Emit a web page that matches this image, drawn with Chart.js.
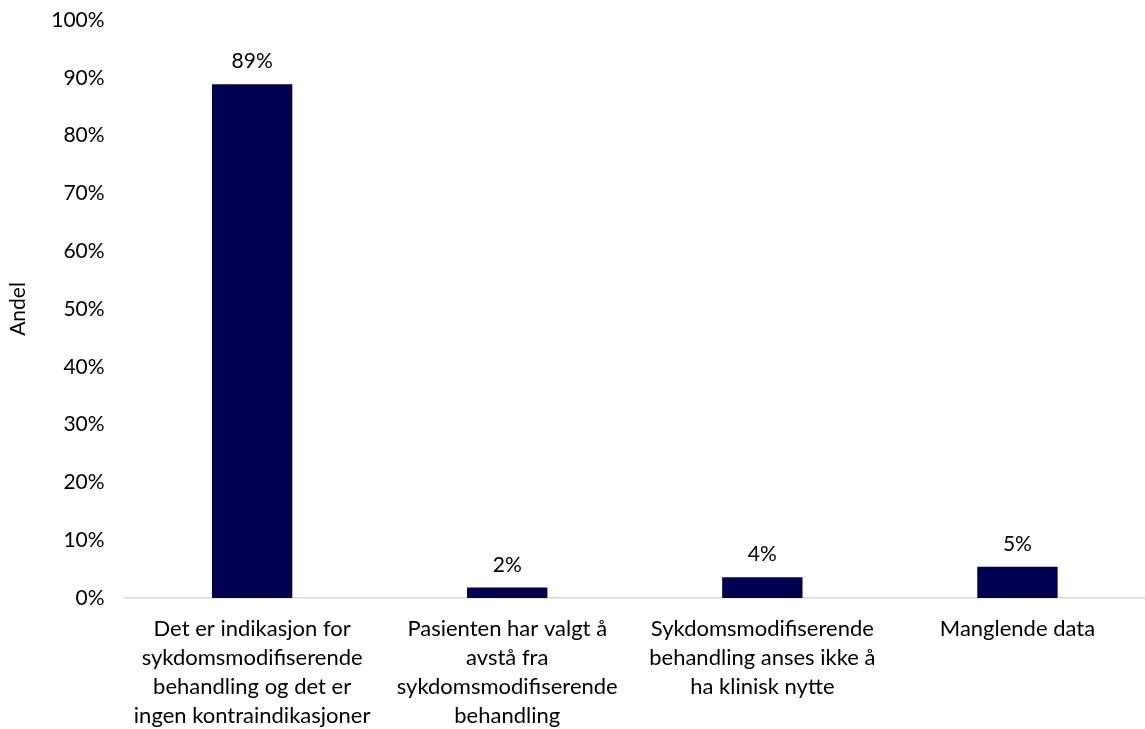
<!DOCTYPE html>
<html>
<head>
<meta charset="utf-8">
<script src="https://cdn.jsdelivr.net/npm/chart.js@4"></script>
<style>
html,body{margin:0;padding:0;background:#fff;}
#wrap{width:1145px;height:729px;position:relative;}
</style>
</head>
<body>
<div id="wrap"><canvas id="c"></canvas></div>
<script>
const categories = [
  ["Det er indikasjon for","sykdomsmodifiserende","behandling og det er","ingen kontraindikasjoner"],
  ["Pasienten har valgt å","avstå fra","sykdomsmodifiserende","behandling"],
  ["Sykdomsmodifiserende","behandling anses ikke å","ha klinisk nytte"],
  ["Manglende data"]
];
const values = [88.9, 1.8, 3.6, 5.4];
const valueLabels = ["89%", "2%", "4%", "5%"];
const yTicks = [0,10,20,30,40,50,60,70,80,90,100];

const FONT = "Lato, 'Open Sans', 'Liberation Sans', sans-serif";

const labelPlugin = {
  id: 'barLabels',
  afterDatasetsDraw(chart) {
    const ctx = chart.ctx;
    const meta = chart.getDatasetMeta(0);
    ctx.save();
    ctx.font = "21px " + FONT;
    ctx.fillStyle = "#000";
    ctx.textAlign = "center";
    ctx.textBaseline = "bottom";
    meta.data.forEach((bar, i) => {
      ctx.fillText(valueLabels[i], bar.x, bar.y - 12);
    });
    ctx.restore();
  }
};

new Chart(document.getElementById('c'), {
  type: 'bar',
  data: {
    labels: categories,
    datasets: [{
      data: values,
      backgroundColor: '#000050',
      borderWidth: 0,
      barPercentage: 0.63,
      categoryPercentage: 0.5
    }]
  },
  options: {
    responsive: true,
    maintainAspectRatio: false,
    animation: false,
    layout: { padding: { top: 20, right: 0, left: 6, bottom: 0 } },
    plugins: { legend: { display: false }, tooltip: { enabled: false } },
    scales: {
      x: {
        afterFit(axis) { axis.height = 131; },
        grid: { display: false, drawTicks: false },
        border: { display: true, color: '#d9d9d9', width: 1.5 },
        ticks: { color: '#000', font: { family: FONT, size: 22, lineHeight: 1.32 }, padding: 16, maxRotation: 0, autoSkip: false }
      },
      y: {
        min: 0, max: 100,
        afterBuildTicks(axis) { axis.ticks = yTicks.map(v => ({ value: v })); },
        afterFit(axis) { axis.paddingTop = 0; axis.paddingBottom = 0; },
        grid: { display: false, drawTicks: false },
        border: { display: false },
        ticks: { color: '#000', font: { family: FONT, size: 21 }, padding: 20, callback: v => v + '%' },
        title: { display: true, text: 'Andel', color: '#000', font: { family: FONT, size: 21 }, padding: { top: 0, bottom: 0 } }
      }
    }
  },
  plugins: [labelPlugin]
});
</script>
</body>
</html>
